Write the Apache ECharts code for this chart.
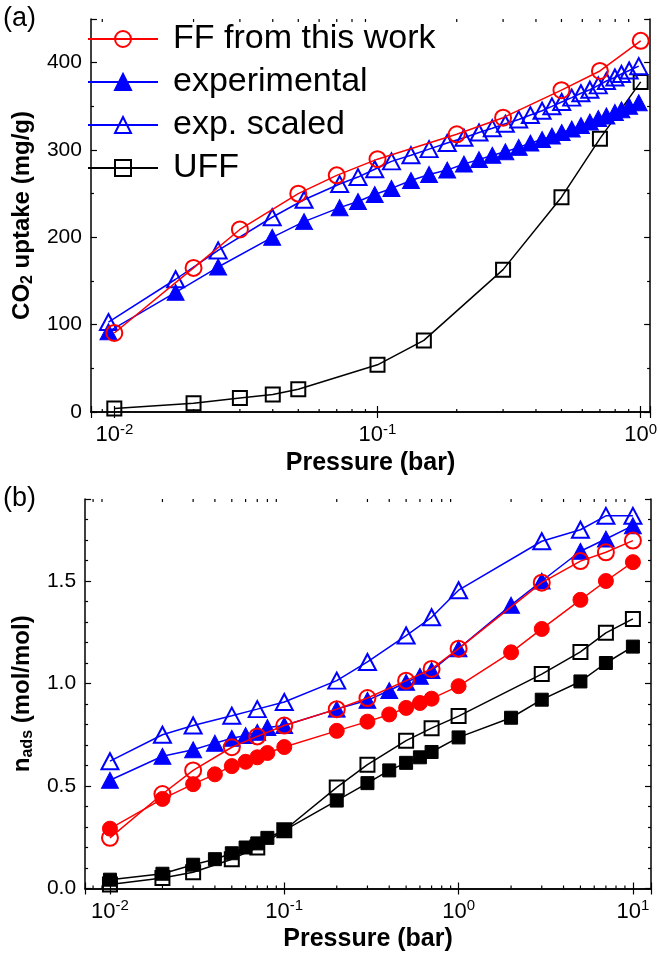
<!DOCTYPE html>
<html><head><meta charset="utf-8">
<script src="https://cdn.jsdelivr.net/npm/echarts@6/dist/echarts.min.js"></script>
<style>html,body{margin:0;padding:0;background:#fff}#c{width:660px;height:953px}</style>
</head><body><div id="c"></div>
<script>
// ---------- Panel (a): CO2 uptake (mg/g) vs pressure (bar) ----------
const aFFPressure = [0.01, 0.02, 0.03, 0.05, 0.07, 0.1, 0.2, 0.3, 0.5, 0.7, 1.0];
const aFFUptake = [90.5, 165, 209, 250, 271, 289.5, 318, 337, 368.5, 390.5, 425];
const aExpPressure = [0.0095, 0.0171, 0.0248, 0.0398, 0.0526, 0.0718, 0.0843, 0.0976, 0.113, 0.134,
  0.157, 0.184, 0.213, 0.243, 0.273, 0.306, 0.344, 0.381, 0.422, 0.46,
  0.501, 0.547, 0.593, 0.641, 0.69, 0.741, 0.798, 0.845, 0.904, 0.983];
const aExpUptake = [92, 137, 166, 200, 218, 234, 241, 249, 256, 265,
  272, 277, 284, 289, 294, 298, 303, 308, 312, 316,
  320, 324, 328, 332, 336, 339, 343, 346, 350, 354];
const aExpScaledUptake = [103, 152, 185, 223, 243, 261, 269, 278, 287, 294,
  301, 308, 314, 320, 325, 330, 335, 340, 345, 350,
  355, 360, 365, 369, 374, 379, 383, 387, 391, 396];
const aUFFPressure = [0.01, 0.02, 0.03, 0.04, 0.05, 0.1, 0.15, 0.3, 0.5, 0.7, 1.0];
const aUFFUptake = [4, 10, 16, 20, 26, 54, 82, 163, 246, 313, 378];

// ---------- Panel (b): n_ads (mol/mol) vs pressure (bar) ----------
const bOpenPressure = [0.01, 0.02, 0.03, 0.05, 0.07, 0.1, 0.2, 0.3, 0.5, 0.7, 1, 3, 5, 7, 10];
const bRedOpen = [0.247, 0.461, 0.576, 0.689, 0.742, 0.795, 0.875, 0.929, 1.014, 1.071, 1.17, 1.492, 1.597, 1.64, 1.697];
const bBlueOpen = [0.621, 0.75, 0.795, 0.843, 0.875, 0.91, 1.014, 1.105, 1.234, 1.323, 1.455, 1.694, 1.75, 1.818, 1.818];
const bBlackOpen = [0.019, 0.051, 0.079, 0.143, 0.20, 0.284, 0.493, 0.604, 0.721, 0.782, 0.841, 1.046, 1.154, 1.247, 1.315];
const bFilledPressure = [0.01, 0.02, 0.03, 0.04, 0.05, 0.06, 0.07, 0.08, 0.1, 0.2, 0.3, 0.4, 0.5, 0.6, 0.7, 1, 2, 3, 5, 7, 10];
const bRedFilled = [0.292, 0.437, 0.509, 0.557, 0.597, 0.618, 0.640, 0.661, 0.69, 0.769, 0.814, 0.849, 0.881, 0.905, 0.926, 0.987, 1.152, 1.266, 1.408, 1.50, 1.592];
const bBlueFilled = [0.528, 0.645, 0.677, 0.709, 0.733, 0.746, 0.762, 0.785, 0.795, 0.875, 0.918, 0.966, 1.006, 1.035, 1.063, 1.17, 1.382, 1.50, 1.645, 1.705, 1.77];
const bBlackFilled = [0.043, 0.072, 0.116, 0.143, 0.172, 0.2, 0.22, 0.247, 0.284, 0.429, 0.514, 0.576, 0.613, 0.64, 0.666, 0.737, 0.833, 0.921, 1.01, 1.10, 1.18];

// ---------- Axis ranges & minor tick values ----------
const aXRange = [0.00815, 1.086];
const aYRange = [0, 450];
const aYInterval = 100;
const bXRange = [0.0072, 12.7];
const bYRange = [0, 1.9];
const bYInterval = 0.5;
const aMinorX = [0.009, 0.02, 0.03, 0.04, 0.05, 0.06, 0.07, 0.08, 0.09, 0.2, 0.3, 0.4, 0.5, 0.6, 0.7, 0.8, 0.9];
const bMinorX = [0.008, 0.009, 0.02, 0.03, 0.04, 0.05, 0.06, 0.07, 0.08, 0.09, 0.2, 0.3, 0.4, 0.5, 0.6, 0.7, 0.8, 0.9,
  2, 3, 4, 5, 6, 7, 8, 9];

const legendNames = ['FF from this work', 'experimental', 'exp. scaled', 'UFF'];

const FONT = '"Liberation Sans", Arial, Helvetica, sans-serif';
const RED = '#ff0000', BLUE = '#0000ff', BLACK = '#000000';
const zip = (xs, ys) => xs.map((x, i) => [x, ys[i]]);

function logLabel(v) {
  const e = Math.log10(v), r = Math.round(e);
  if (Math.abs(e - r) > 1e-6) return '';
  return '{b|10}{s|' + r + '}';
}
const logRich = {
  b: { fontSize: 22, fontFamily: FONT, color: '#000', lineHeight: 26 },
  s: { fontSize: 15, fontFamily: FONT, color: '#000', lineHeight: 15, verticalAlign: 'top' }
};

function xAxes(grid, range, name) {
  const base = { type: 'log', logBase: 10, gridIndex: grid, min: range[0], max: range[1], splitLine: { show: false } };
  return [
    Object.assign({}, base, {
      position: 'bottom',
      axisLine: { show: true, lineStyle: { color: BLACK, width: 1.5 } },
      axisTick: { show: true, inside: true, length: 6, lineStyle: { color: BLACK, width: 1.2 } },
      axisLabel: { formatter: logLabel, rich: logRich, margin: 10, hideOverlap: false, showMinLabel: true, showMaxLabel: true },
      name: name, nameLocation: 'middle', nameGap: 51,
      nameTextStyle: { fontSize: 25, fontWeight: 'bold', fontFamily: FONT, color: BLACK, verticalAlign: 'middle' }
    }),
    Object.assign({}, base, {
      position: 'top',
      axisLine: { show: true, lineStyle: { color: BLACK, width: 1.5 } },
      axisTick: { show: true, inside: true, length: 6, lineStyle: { color: BLACK, width: 1.2 } },
      axisLabel: { show: false }
    })
  ];
}
function yAxes(grid, range, interval, name, fmt, rich) {
  const base = { type: 'value', gridIndex: grid, min: range[0], max: range[1], interval: interval, splitLine: { show: false } };
  const minor = { show: true, splitNumber: interval === 100 ? 2 : 5, length: 3, lineStyle: { color: BLACK, width: 1.2 } };
  return [
    Object.assign({}, base, {
      position: 'left',
      axisLine: { show: true, lineStyle: { color: BLACK, width: 1.5 } },
      axisTick: { show: true, inside: true, length: 6, lineStyle: { color: BLACK, width: 1.2 } },
      minorTick: minor,
      axisLabel: { formatter: fmt, fontSize: 21, fontFamily: FONT, color: BLACK, margin: 9, showMaxLabel: true },
      name: name, nameLocation: 'middle', nameGap: 62, nameRotate: 90,
      nameTextStyle: { fontSize: 24, fontWeight: 'bold', fontFamily: FONT, color: BLACK, verticalAlign: 'middle', align: 'center', lineHeight: 28, rich: rich }
    }),
    Object.assign({}, base, {
      position: 'right',
      axisLine: { show: true, lineStyle: { color: BLACK, width: 1.5 } },
      axisTick: { show: true, inside: true, length: 6, lineStyle: { color: BLACK, width: 1.2 } },
      minorTick: minor,
      axisLabel: { show: false }
    })
  ];
}

function minorTickSeries(xIdx, yIdx, values, yLo, yHi) {
  return {
    type: 'custom', xAxisIndex: xIdx, yAxisIndex: yIdx, silent: true, z: 1,
    data: values.map(v => [v, yLo]),
    renderItem: function (params, api) {
      const v = api.value(0);
      const p1 = api.coord([v, yLo]);
      const p2 = api.coord([v, yHi]);
      const st = { stroke: BLACK, lineWidth: 1.2 };
      return { type: 'group', children: [
        { type: 'line', shape: { x1: p1[0], y1: p1[1], x2: p1[0], y2: p1[1] - 3 }, style: st },
        { type: 'line', shape: { x1: p2[0], y1: p2[1], x2: p2[0], y2: p2[1] + 3 }, style: st }
      ] };
    }
  };
}

function lineSeries(name, xIdx, yIdx, data, color, symbol, size, filled, z) {
  return {
    type: 'line', name: name, xAxisIndex: xIdx, yAxisIndex: yIdx, data: data, z: z,
    symbol: symbol, symbolSize: size, showAllSymbol: true, clip: false,
    lineStyle: { color: color, width: 1.5 },
    itemStyle: { color: filled ? color : 'rgba(255,255,255,0)', borderColor: color, borderWidth: filled ? 1 : 2 },
    emphasis: { disabled: true }
  };
}

const TRI = [17, 16];
const option = {
  animation: false,
  backgroundColor: '#fff',
  textStyle: { fontFamily: FONT },
  title: [
    { text: '(a)', left: 3, top: 5, padding: 0, textStyle: { fontSize: 27, fontWeight: 'normal', fontFamily: FONT, color: BLACK } },
    { text: '(b)', left: 3, top: 485, padding: 0, textStyle: { fontSize: 27, fontWeight: 'normal', fontFamily: FONT, color: BLACK } }
  ],
  grid: [
    { left: 85, right: 9, top: 19, height: 393 },
    { left: 85, right: 9, top: 499, height: 393 }
  ],
  legend: {
    data: legendNames, orient: 'vertical', left: 87, top: 22, padding: 0,
    itemWidth: 70, itemHeight: 20, itemGap: 9, selectedMode: false,
    textStyle: { fontSize: 34, fontFamily: FONT, color: BLACK, padding: [0, 0, 0, 10] }
  },
  xAxis: [].concat(xAxes(0, aXRange, 'Pressure (bar)'), xAxes(1, bXRange, 'Pressure (bar)')),
  yAxis: [].concat(
    yAxes(0, aYRange, aYInterval, 'CO{s|2} uptake (mg/g)', v => (v % 100 === 0 ? String(v) : ''),
      { s: { fontSize: 16, fontWeight: 'bold', fontFamily: FONT, color: BLACK, lineHeight: 16, verticalAlign: 'bottom' } }),
    yAxes(1, bYRange, bYInterval, 'n{s|ads} (mol/mol)', v => (Math.abs(v * 2 - Math.round(v * 2)) < 1e-6 ? v.toFixed(1) : ''),
      { s: { fontSize: 16, fontWeight: 'bold', fontFamily: FONT, color: BLACK, lineHeight: 16, verticalAlign: 'bottom' } })
  ),
  series: [
    minorTickSeries(0, 0, aMinorX, aYRange[0], aYRange[1]),
    minorTickSeries(2, 2, bMinorX, bYRange[0], bYRange[1]),
    lineSeries('UFF', 0, 0, zip(aUFFPressure, aUFFUptake), BLACK, 'rect', 14, false, 2),
    lineSeries('experimental', 0, 0, zip(aExpPressure, aExpUptake), BLUE, 'triangle', TRI, true, 3),
    lineSeries('exp. scaled', 0, 0, zip(aExpPressure, aExpScaledUptake), BLUE, 'triangle', TRI, false, 4),
    lineSeries('FF from this work', 0, 0, zip(aFFPressure, aFFUptake), RED, 'circle', 16, false, 5),

    lineSeries('b UFF filled', 2, 2, zip(bFilledPressure, bBlackFilled), BLACK, 'rect', 13, true, 2),
    lineSeries('b UFF open', 2, 2, zip(bOpenPressure, bBlackOpen), BLACK, 'rect', 14, false, 2),
    lineSeries('b exp filled', 2, 2, zip(bFilledPressure, bBlueFilled), BLUE, 'triangle', TRI, true, 3),
    lineSeries('b exp open', 2, 2, zip(bOpenPressure, bBlueOpen), BLUE, 'triangle', TRI, false, 3),
    lineSeries('b FF filled', 2, 2, zip(bFilledPressure, bRedFilled), RED, 'circle', 15, true, 4),
    lineSeries('b FF open', 2, 2, zip(bOpenPressure, bRedOpen), RED, 'circle', 16, false, 5)
  ]
};
const chart = echarts.init(document.getElementById('c'), null, { renderer: 'canvas' });
chart.setOption(option);
</script></body></html>
